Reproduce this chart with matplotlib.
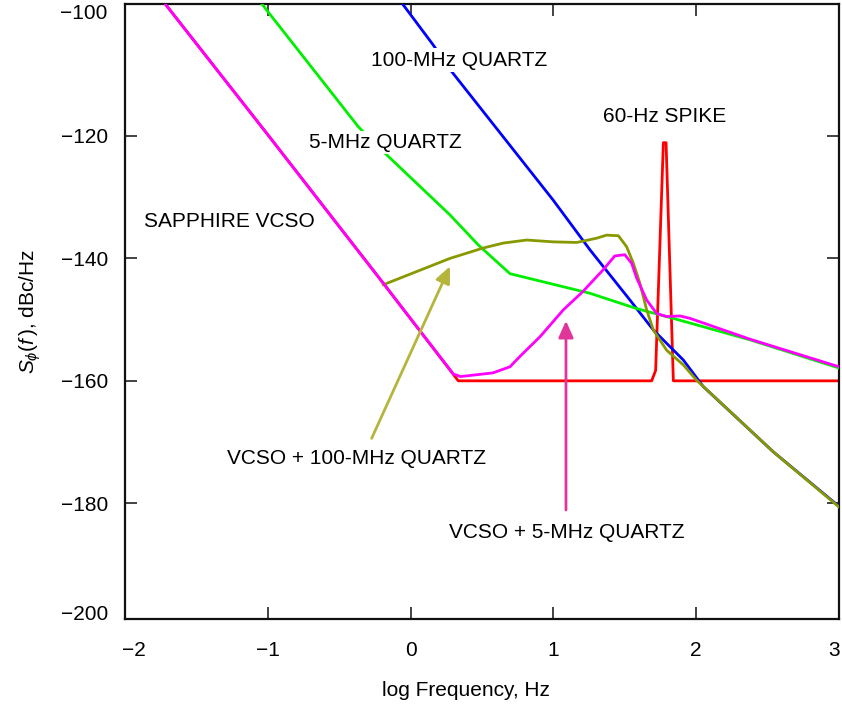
import numpy as np
import matplotlib
matplotlib.use("Agg")
import matplotlib.pyplot as plt
import matplotlib.transforms as mtransforms

plt.rcParams['font.family'] = ['Liberation Sans', 'DejaVu Sans']
plt.rcParams['mathtext.fontset'] = 'custom'
plt.rcParams['mathtext.rm'] = 'Liberation Sans'
plt.rcParams['mathtext.it'] = 'Liberation Sans:italic'
plt.rcParams['mathtext.sf'] = 'Liberation Sans'

# ---- data (log frequency, dBc/Hz) ----
sapphire_x = [-1.75, -1.0, -0.19, 0.334, 1.688, 1.716, 1.770, 1.789, 1.840, 3.0]
sapphire_y = [-97.5, -119.8, -144.1, -160.0, -160.0, -158.3, -121.1, -121.1, -160.0, -160.0]

q100_x = [-0.08, 0.157, 0.288, 0.999, 1.256, 1.536, 1.70, 1.91, 2.048, 2.54, 3.0]
q100_y = [-97.7, -105.1, -109.5, -130.5, -138.6, -146.8, -151.7, -156.6, -160.9, -171.6, -180.5]

q5_x = [-1.07, -0.366, -0.167, 0.276, 0.474, 0.696, 0.976, 1.256, 1.583, 1.84, 2.377, 3.0]
q5_y = [-97.6, -118.5, -123.1, -132.9, -137.8, -142.5, -144.1, -145.7, -148.2, -149.8, -153.3, -157.9]

v100_x = [-0.191, 0.276, 0.509, 0.649, 0.813, 0.999, 1.163, 1.303, 1.373, 1.455, 1.513,
          1.56, 1.606, 1.653, 1.70, 1.793, 1.91, 2.003, 2.54, 3.0]
v100_y = [-144.3, -140.0, -138.3, -137.5, -137.0, -137.3, -137.4, -136.7, -136.2, -136.3, -138.1,
          -140.8, -144.1, -148.4, -151.7, -155.0, -157.4, -159.9, -171.6, -180.6]

v5_x = [-1.75, -1.0, -0.19, 0.30, 0.35, 0.577, 0.696, 0.766, 0.906, 1.07, 1.207, 1.347, 1.43,
        1.50, 1.548, 1.583, 1.653, 1.723, 1.793, 1.887, 1.957, 2.377, 3.0]
v5_y = [-97.5, -119.8, -144.1, -158.9, -159.3, -158.7, -157.7, -156.0, -152.8, -148.4, -145.4,
        -141.9, -139.6, -139.4, -140.8, -143.2, -146.8, -149.0, -149.5, -149.4, -149.8, -153.2, -157.7]

x_ticks = [-2, -1, 0, 1, 2, 3]
y_ticks = [-180, -160, -140, -120]

W, H = 842, 708
fig = plt.figure(figsize=(W / 100, H / 100), dpi=100)
L, R, T, B = 125, 839, 4, 619
ax = fig.add_axes([L / W, 1 - B / H, (R - L) / W, (B - T) / H])

lw = 2.0
ax.plot(sapphire_x, sapphire_y, color='#ff0000', lw=lw, zorder=2)
ax.plot(q100_x, q100_y, color='#0000ff', lw=lw, zorder=3)
ax.plot(q5_x, q5_y, color='#00ee00', lw=lw, zorder=3)
ax.plot(v100_x, v100_y, color='#889900', lw=lw, zorder=4)
ax.plot(v5_x, v5_y, color='#ff00ff', lw=lw, zorder=5)

ax.set_xlim(-2, 3)
ax.set_ylim(-198.9, -98.45)
ax.set_xticks(x_ticks)
ax.set_xticklabels([f"\u2212{abs(v)}" if v < 0 else str(v) for v in x_ticks])
ax.set_yticks(y_ticks)
ax.set_yticklabels([f"\u2212{abs(v)}" for v in y_ticks])
ax.tick_params(direction='in', length=8.5, width=1.2, top=True, right=True,
               labelsize=15, color='#222222')
ax.tick_params(axis='x', pad=16)
ax.tick_params(axis='y', pad=12)
for s in ax.spines.values():
    s.set_linewidth(1.6)
    s.set_color('#111111')

# nudge the end tick labels inward as in the reference
xlabels = ax.get_xticklabels()
xlabels[0].set_transform(xlabels[0].get_transform() +
                         mtransforms.ScaledTranslation(9 / 100, 0, fig.dpi_scale_trans))
xlabels[-1].set_transform(xlabels[-1].get_transform() +
                          mtransforms.ScaledTranslation(-5 / 100, 0, fig.dpi_scale_trans))

# extra end labels of y axis
ax.text(-0.024, -100, "\u2212100", transform=ax.get_yaxis_transform(), ha='right', va='center', fontsize=15)
ax.text(-0.024, -198.1, "\u2212200", transform=ax.get_yaxis_transform(), ha='right', va='center', fontsize=15)

xl = ax.set_xlabel("log Frequency, Hz", fontsize=15)
ax.xaxis.set_label_coords((466 - L) / (R - L), (B - 690) / (B - T))
xl.set_va('center')
yl = ax.set_ylabel(r"$S_{\phi}(f\,)$, dBc/Hz", fontsize=15)
ax.yaxis.set_label_coords((30 - L) / (R - L), 0.5)
yl.set_va('center')

bb = dict(facecolor='white', edgecolor='none', pad=1.5)
ax.text(0.339, -107.6, "100-MHz QUARTZ", fontsize=15, ha='center', va='center', bbox=bb, zorder=10)
ax.text(-0.179, -121.1, "5-MHz QUARTZ", fontsize=15, ha='center', va='center', bbox=bb, zorder=10)
ax.text(-1.268, -134.0, "SAPPHIRE VCSO", fontsize=15, ha='center', va='center', zorder=10)
ax.text(1.778, -116.9, "60-Hz SPIKE", fontsize=15, ha='center', va='center', zorder=10)
ax.text(-0.379, -172.7, "VCSO + 100-MHz QUARTZ", fontsize=15, ha='center', va='center', zorder=10)
ax.text(1.095, -184.7, "VCSO + 5-MHz QUARTZ", fontsize=15, ha='center', va='center', zorder=10)

ax.annotate("", xy=(0.276, -141.3), xytext=(-0.273, -169.4),
            arrowprops=dict(arrowstyle='-|>,head_length=1.0,head_width=0.45',
                            color='#b5b53c', lw=2.0, shrinkA=0, shrinkB=0), zorder=6)
ax.annotate("", xy=(1.088, -150.2), xytext=(1.088, -181.1),
            arrowprops=dict(arrowstyle='-|>,head_length=1.0,head_width=0.45',
                            color='#e0369a', lw=2.0, shrinkA=0, shrinkB=0), zorder=6)

fig.savefig("out.png", dpi=100, facecolor='white')
